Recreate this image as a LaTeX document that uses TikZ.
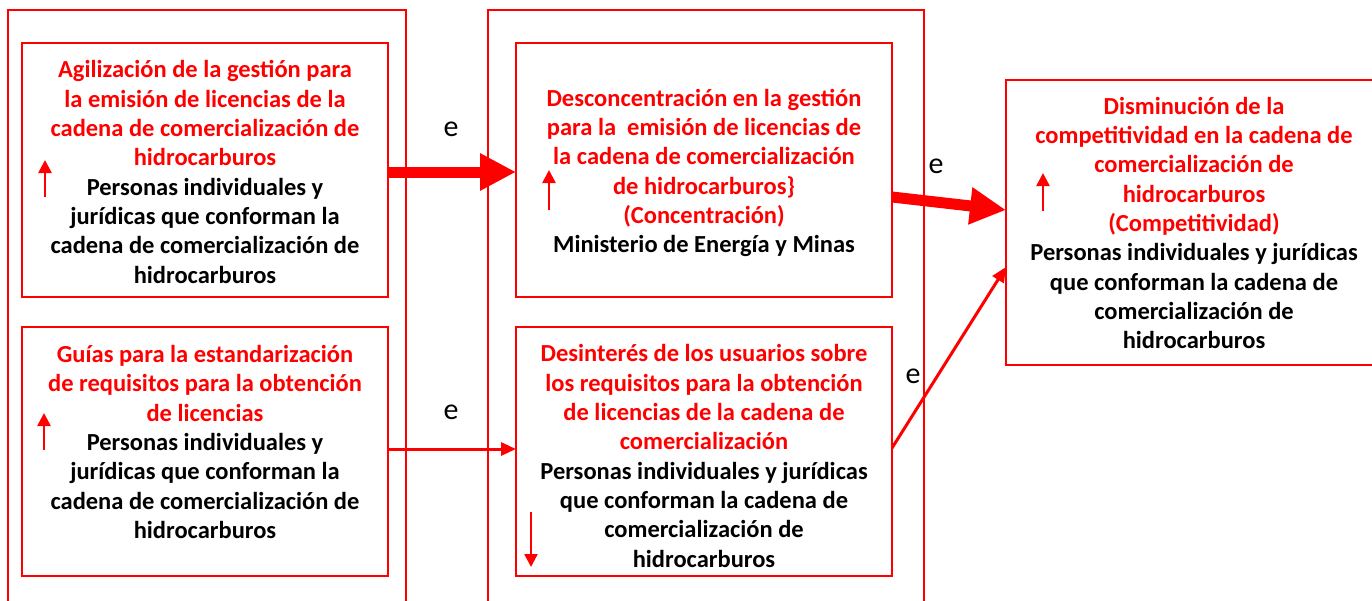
\documentclass[tikz,border=0pt]{standalone}
\usepackage{fontspec}
\setmainfont{Carlito}
\usetikzlibrary{arrows.meta}
\begin{document}
\begin{tikzpicture}[x=1pt,y=-1pt,
  panel/.style={draw=red, line width=1.5pt},
  box/.style={draw=red, line width=2.5pt, inner sep=0pt, outer sep=0pt, rectangle},
  txt/.style={align=center, inner sep=0pt, font=\bfseries\fontsize{24.5}{29.3}\selectfont},
  lbl/.style={inner sep=0pt, font=\fontsize{30}{34}\selectfont},
  bigarrow/.style={draw=red, line width=11pt, -{Triangle[length=36pt,width=35pt]}, red},
  thinarrow/.style={draw=red, line width=3pt, -{Triangle[length=15pt,width=13pt]}, red},
  trend/.style={draw=red, line width=2.5pt, -{Triangle[length=13pt,width=13pt]}, red}]
\useasboundingbox (0,0) rectangle (1372,600);
\fill[white] (0,0) rectangle (1372,600);
% panels
\draw[panel] (8,10) rectangle (406,630);
\draw[panel] (488,10) rectangle (924,630);
% boxes
\node[box, minimum width=366pt, minimum height=254pt] (A) at (205,170) {};
\node[box, minimum width=366pt, minimum height=249pt] (B) at (205,451.5) {};
\node[box, minimum width=376pt, minimum height=254pt] (C) at (704,170) {};
\node[box, minimum width=376pt, minimum height=249pt] (D) at (704,451.5) {};
\node[box, minimum width=370pt, minimum height=285pt] (E) at (1191,222.5) {};
% texts
\node[txt] (tA) at (205,172) {\color{red}Agilización de la gestión para\\\color{red}la emisión de licencias de la\\\color{red}cadena de comercialización de\\\color{red}hidrocarburos\\\color{black}Personas individuales y\\\color{black}jurídicas que conforman la\\\color{black}cadena de comercialización de\\\color{black}hidrocarburos};
\node[txt] (tB) at (205,442) {\color{red}Guías para la estandarización\\\color{red}de requisitos para la obtención\\\color{red}de licencias\\\color{black}Personas individuales y\\\color{black}jurídicas que conforman la\\\color{black}cadena de comercialización de\\\color{black}hidrocarburos};
\node[txt] (tC) at (704,173) {\color{red}Desconcentración en la gestión\\\color{red}para la\ \ emisión de licencias de\\\color{red}la cadena de comercialización\\\color{red}de hidrocarburos\}\\\color{red}(Concentración)\\\color{black}Ministerio de Energía y Minas};
\node[txt] (tD) at (704,456) {\color{red}Desinterés de los usuarios sobre\\\color{red}los requisitos para la obtención\\\color{red}de licencias de la cadena de\\\color{red}comercialización\\\color{black}Personas individuales y jurídicas\\\color{black}que conforman la cadena de\\\color{black}comercialización de\\\color{black}hidrocarburos};
\node[txt] (tE) at (1194,223) {\color{red}Disminución de la\\\color{red}competitividad en la cadena de\\\color{red}comercialización de\\\color{red}hidrocarburos\\\color{red}(Competitividad)\\\color{black}Personas individuales y jurídicas\\\color{black}que conforman la cadena de\\\color{black}comercialización de\\\color{black}hidrocarburos};
% connectors
\draw[bigarrow] ([yshift=-2pt]A.east) -- ([yshift=-2pt]C.west);
\draw[bigarrow] ([yshift=-27pt]C.east) -- ([yshift=12.5pt]E.west);
\draw[thinarrow] ([yshift=2.5pt]B.east) -- ([yshift=2.5pt]D.west);
\draw[thinarrow] ([yshift=3.5pt]D.east) -- ([yshift=-44.5pt]E.west);
% labels
\node[lbl] (e1) at (451,129) {e};
\node[lbl] (e2) at (451,412) {e};
\node[lbl] (e3) at (936,166) {e};
\node[lbl] (e4) at (913,376) {e};
% trend arrows
\draw[trend] (45,197) -- (45,160);
\draw[trend] (44,450) -- (44,413);
\draw[trend] (549,210) -- (549,170);
\draw[trend] (531,512) -- (531,567);
\draw[trend] (1043,211) -- (1043,173);
\end{tikzpicture}
\end{document}
